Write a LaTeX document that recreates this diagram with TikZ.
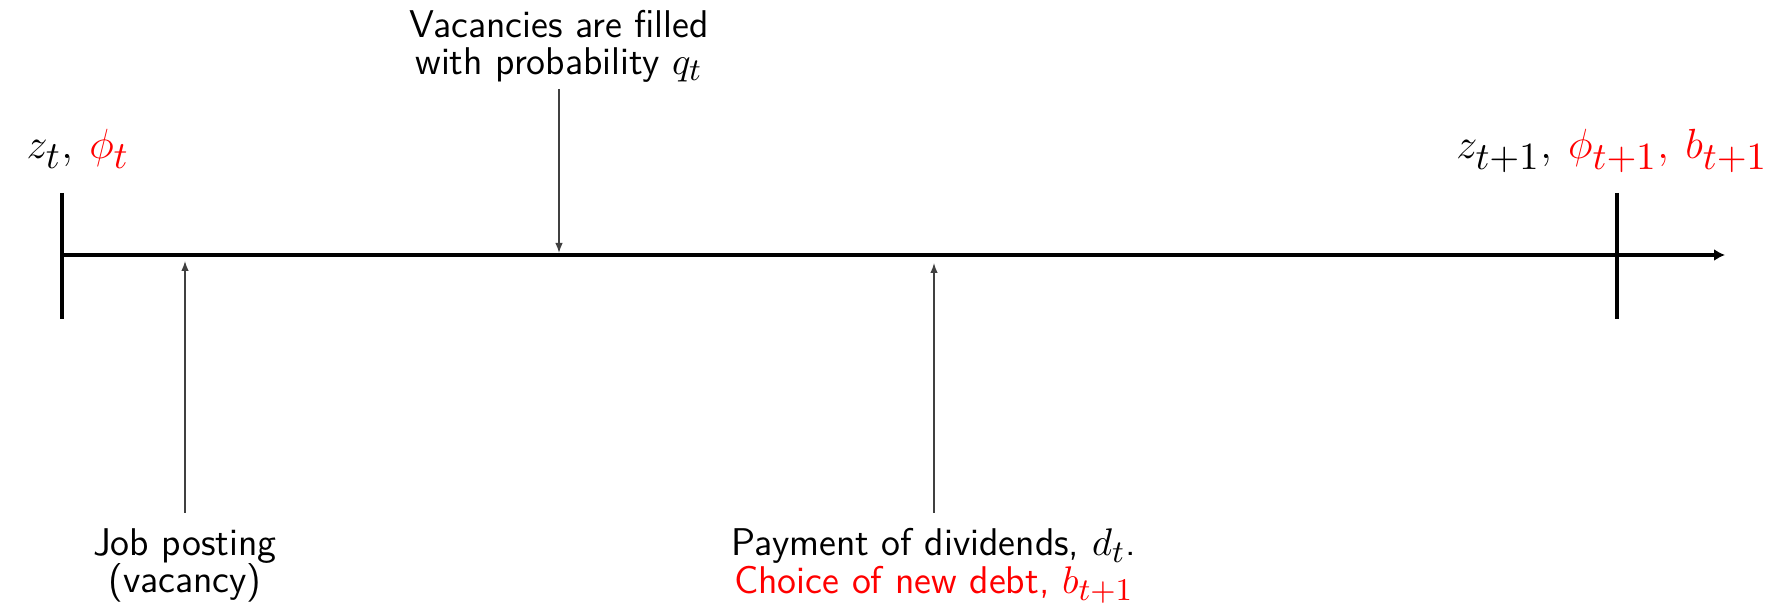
\documentclass[tikz,border=0pt]{standalone}
\usepackage{xcolor}
\DeclareMathSizes{11}{11}{9.5}{8}
\DeclareMathSizes{12.5}{12.5}{10.5}{8.5}
\usetikzlibrary{arrows.meta, positioning}
\tikzset{
  every picture/.style={font=\sffamily},
  timeline/.style={line width=1.25pt, -{Latex[length=1.1mm, width=1.2mm]}},
  tick/.style={line width=1.25pt},
  event/.style={draw=black!75, line width=0.4pt, -{Latex[length=1.0mm, width=0.75mm]}},
  label/.style={align=center, inner xsep=0pt, font=\sffamily\fontsize{11}{10.6}\selectfont},
  state/.style={anchor=base, inner xsep=0pt, font=\fontsize{12.5}{14}\selectfont},
}

\begin{document}
\begin{tikzpicture}
  \useasboundingbox (0,0) rectangle (17.79,6.07);
  % time line and period ticks
  \coordinate (start) at (0.62,3.52);
  \coordinate (stop) at (17.25,3.52);
  \coordinate (next) at (16.17,3.52);
  \draw[timeline] (start) -- (stop);
  \draw[tick] ([yshift=6.2mm]start) -- ([yshift=-6.4mm]start);
  \draw[tick] ([yshift=6.2mm]next) -- ([yshift=-6.4mm]next);
  \node[state] (now) at (0.78,4.48) {$z_t,\:\textcolor{red}{\phi_t}$};
  \node[state] (later) at (16.12,4.48) {$z_{t+1},\:\textcolor{red}{\phi_{t+1},\:b_{t+1}}$};
  % events within the period
  \node[label, anchor=south, inner ysep=0.6mm] (fill) at (5.59,5.18) {Vacancies are filled\\with probability $q_t$};
  \node[label, anchor=north, inner ysep=1.5mm] (post) at (1.85,0.94) {Job posting\\(vacancy)};
  \node[label, anchor=north, inner ysep=1.5mm] (pay) at (9.34,0.94) {Payment of dividends, $d_t$.\\\textcolor{red}{Choice of new debt, $b_{t+1}$}};
  \draw[event] (fill.south) -- ([yshift=0.2mm]fill.south |- start);
  \draw[event] (post.north) -- ([yshift=-0.6mm]post.north |- start);
  \draw[event] (pay.north) -- ([yshift=-0.8mm]pay.north |- start);
\end{tikzpicture}
\end{document}
